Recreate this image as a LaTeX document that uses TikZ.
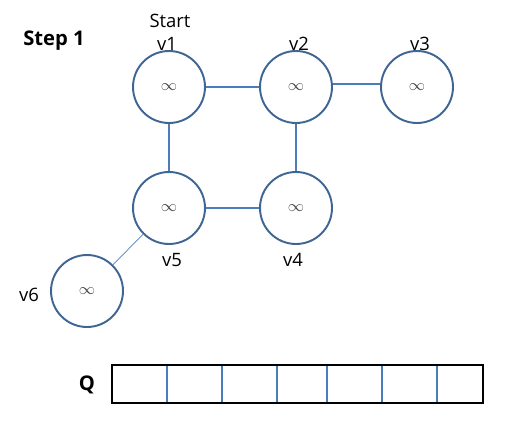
\documentclass[tikz,border=0pt]{standalone}
\usepackage{fontspec}
\setmainfont{Open Sans}
\usepackage{xcolor}
\usetikzlibrary{calc}

\definecolor{ringblue}{HTML}{3F6593}
\definecolor{edgeblue}{HTML}{4A7EBB}

\tikzset{
    vertex/.style={circle, draw=ringblue, line width=1.1pt, minimum size=1.44cm, inner sep=0pt,
                   font=\small, text=gray!55!black},
    vlabel/.style={font=\fontsize{10.5}{12}\selectfont, inner sep=0pt},
    edge/.style={draw=edgeblue, line width=0.6pt},
}

\begin{document}
\begin{tikzpicture}[x=0.02cm, y=-0.02cm]
        \useasboundingbox (0,0) rectangle (507,426);

        % vertices
        \node[vertex] (v1) at (169, 87) {$\infty$};
        \node[vertex] (v2) at (296, 87) {$\infty$};
        \node[vertex] (v3) at (417, 87) {$\infty$};
        \node[vertex] (v5) at (169,208) {$\infty$};
        \node[vertex] (v4) at (296,208) {$\infty$};
        \node[vertex] (v6) at ( 87,291) {$\infty$};

        % labels
        \node[font=\fontsize{11.5}{13}\selectfont\bfseries] (step) at (54, 41) {Step 1};
        \node[vlabel] (start) at (170, 21) {Start};
        \node[vlabel] (l1) at (167, 44) {v1};
        \node[vlabel] (l2) at (299, 44) {v2};
        \node[vlabel] (l3) at (420, 44) {v3};
        \node[vlabel] (l5) at (172,260) {v5};
        \node[vlabel] (l4) at (293,260) {v4};
        \node[vlabel] (l6) at ( 29,295) {v6};

        % edges
        \draw[edge] (v1) -- (v2);
        \draw[edge] ([yshift=0.06cm]v2.east) -- ([yshift=0.06cm]v3.west);
        \draw[edge] (v1) -- (v5);
        \draw[edge] (v2) -- (v4);
        \draw[edge] (v5) -- (v4);
        \draw[edge, line width=0.4pt] (v5) -- (v6);

        % queue
        \node[font=\fontsize{11.5}{13}\selectfont\bfseries] (q) at (87,385) {Q};
        \foreach \x in {167,222,277,327,382,437}
            \draw[edgeblue, line width=0.6pt] (\x,365) -- (\x,403);
        \draw[line width=1.2pt] (112,365) rectangle (483,403);

\end{tikzpicture}
\end{document}
